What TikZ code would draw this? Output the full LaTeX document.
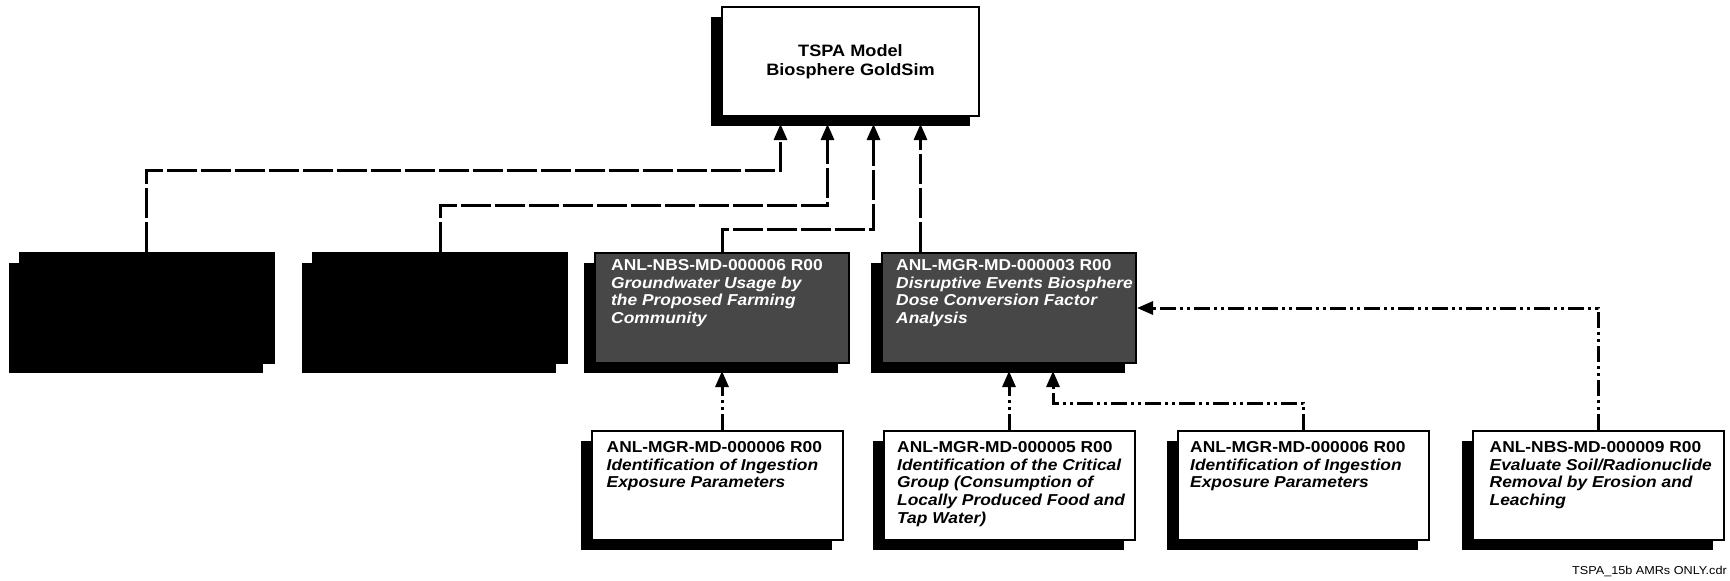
\documentclass[tikz,border=0pt]{standalone}
\usepackage{fontspec}
\setmainfont{Liberation Sans}[FakeStretch=1.1]
\usetikzlibrary{arrows.meta,shadows}

\begin{document}
\begin{tikzpicture}[x=1pt,y=-1pt,
    mdbox/.style={draw,line width=2pt,inner sep=0pt,fill=white,minimum width=251pt,minimum height=109pt,
      general shadow={fill=black,shadow xshift=-11pt,shadow yshift=-10pt}},
    midbox/.style={mdbox,minimum width=254pt,minimum height=110pt,fill=black!72},
    hidbox/.style={midbox,fill=black},
    boxtext/.style={anchor=north west,inner sep=0pt,align=left,font=\fontsize{15.8}{17.8}\selectfont\bfseries},
    upline/.style={line width=3pt,dash pattern=on 30pt off 4pt,-{Triangle[length=16pt,width=13pt]}},
    lowline/.style={line width=3pt,dash pattern=on 16pt off 4pt on 3pt off 4pt on 3pt off 4pt,-{Triangle[length=16pt,width=13pt]}}]
  \useasboundingbox (0,0) rectangle (1730,581);

  % top
  \node[mdbox,minimum width=257pt,general shadow={fill=black,shadow xshift=-9pt,shadow yshift=-10pt},
    align=center,font=\fontsize{16.5}{18.5}\selectfont\bfseries] (tspa) at (850.5,61.5)
    {TSPA Model\\Biosphere GoldSim};

  % middle row
  \node[hidbox] (blk1) at (146.5,308) {};
  \node[hidbox] (blk2) at (440,308) {};
  \node[midbox] (gry1) at (722,308) {};
  \node[midbox] (gry2) at (1009,308) {};
  \node[boxtext,text=white] (gry1-t) at ([xshift=17pt,yshift=-7pt]gry1.north west)
    {ANL-NBS-MD-000006 R00\\\textit{Groundwater Usage by}\\\textit{the Proposed Farming}\\\textit{Community}};
  \node[boxtext,text=white] (gry2-t) at ([xshift=15pt,yshift=-7pt]gry2.north west)
    {ANL-MGR-MD-000003 R00\\\textit{Disruptive Events Biosphere}\\\textit{Dose Conversion Factor}\\\textit{Analysis}};

  % bottom row
  \node[mdbox] (mdA) at (717,485.5) {};
  \node[mdbox] (mdB) at (1009.5,485.5) {};
  \node[mdbox] (mdC) at (1303.5,485.5) {};
  \node[mdbox] (mdD) at (1598,485.5) {};
  \node[boxtext] (mdA-t) at ([xshift=16pt,yshift=-11pt]mdA.north west)
    {ANL-MGR-MD-000006 R00\\\textit{Identification of Ingestion}\\\textit{Exposure Parameters}};
  \node[boxtext] (mdB-t) at ([xshift=14pt,yshift=-11pt]mdB.north west)
    {ANL-MGR-MD-000005 R00\\\textit{Identification of the Critical}\\\textit{Group (Consumption of}\\\textit{Locally Produced Food and}\\\textit{Tap Water)}};
  \node[boxtext] (mdC-t) at ([xshift=13pt,yshift=-11pt]mdC.north west)
    {ANL-MGR-MD-000006 R00\\\textit{Identification of Ingestion}\\\textit{Exposure Parameters}};
  \node[boxtext] (mdD-t) at ([xshift=18pt,yshift=-11pt]mdD.north west)
    {ANL-NBS-MD-000009 R00\\\textit{Evaluate Soil/Radionuclide}\\\textit{Removal by Erosion and}\\\textit{Leaching}};

  \node[anchor=base east,inner sep=0pt,font=\fontsize{11.5}{13}\selectfont] (cdr) at (1727,574)
    {TSPA\_15b AMRs ONLY.cdr};

  % elbows and tips
  \coordinate (h1) at (0,170);
  \coordinate (h2) at (0,205);
  \coordinate (h3) at (0,229);
  \coordinate (h4) at (0,403);
  \coordinate (t1) at ([xshift=-70pt,yshift=-7pt]tspa.south);
  \coordinate (t2) at ([xshift=-23pt,yshift=-7pt]tspa.south);
  \coordinate (t3) at ([xshift=23pt,yshift=-7pt]tspa.south);
  \coordinate (t4) at ([xshift=70pt,yshift=-7pt]tspa.south);
  \coordinate (g1) at ([yshift=-7pt]gry1.south);
  \coordinate (g2) at ([yshift=-7pt]gry2.south);
  \coordinate (g3) at ([xshift=44pt,yshift=-7pt]gry2.south);

  \draw[upline] (blk1.north) -- (blk1.north |- h1) -| (t1);
  \draw[upline] (blk2.north) -- (blk2.north |- h2) -| (t2);
  \draw[upline] (gry1.north) -- (gry1.north |- h3) -| (t3);
  \draw[upline] (gry2.north -| t4) -- (t4);

  \draw[lowline] (mdA.north -| g1) -- (g1);
  \draw[lowline] (mdB.north -| g2) -- (g2);
  \draw[lowline] (mdC.north) -- (mdC.north |- h4) -| (g3);
  \draw[lowline] (mdD.north) |- (gry2.east);
\end{tikzpicture}
\end{document}
